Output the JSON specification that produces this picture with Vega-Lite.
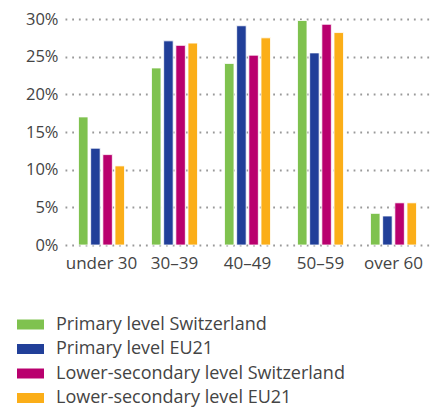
{
  "$schema": "https://vega.github.io/schema/vega-lite/v6.json",
  "autosize": {"type": "none"},
  "padding": {"left": 65, "top": 19, "right": 10, "bottom": 169},
  "width": 365,
  "height": 226,
  "data": {"values": [
    {"age": "under 30", "series": "Primary level Switzerland", "v": 17.0},
    {"age": "under 30", "series": "Primary level EU21", "v": 12.85},
    {"age": "under 30", "series": "Lower-secondary level Switzerland", "v": 12.0},
    {"age": "under 30", "series": "Lower-secondary level EU21", "v": 10.5},
    {"age": "30–39", "series": "Primary level Switzerland", "v": 23.5},
    {"age": "30–39", "series": "Primary level EU21", "v": 27.1},
    {"age": "30–39", "series": "Lower-secondary level Switzerland", "v": 26.5},
    {"age": "30–39", "series": "Lower-secondary level EU21", "v": 26.8},
    {"age": "40–49", "series": "Primary level Switzerland", "v": 24.1},
    {"age": "40–49", "series": "Primary level EU21", "v": 29.1},
    {"age": "40–49", "series": "Lower-secondary level Switzerland", "v": 25.2},
    {"age": "40–49", "series": "Lower-secondary level EU21", "v": 27.5},
    {"age": "50–59", "series": "Primary level Switzerland", "v": 29.8},
    {"age": "50–59", "series": "Primary level EU21", "v": 25.5},
    {"age": "50–59", "series": "Lower-secondary level Switzerland", "v": 29.3},
    {"age": "50–59", "series": "Lower-secondary level EU21", "v": 28.2},
    {"age": "over 60", "series": "Primary level Switzerland", "v": 4.2},
    {"age": "over 60", "series": "Primary level EU21", "v": 3.85},
    {"age": "over 60", "series": "Lower-secondary level Switzerland", "v": 5.6},
    {"age": "over 60", "series": "Lower-secondary level EU21", "v": 5.6}
  ]},
  "config": {
    "view": {"stroke": null},
    "font": "Open Sans",
    "axis": {"labelFont": "Open Sans", "labelColor": "#444", "labelFontSize": 16.5}
  },
  "mark": {"type": "bar", "stroke": "white", "strokeWidth": 0.8},
  "encoding": {
    "x": {
      "field": "age", "type": "nominal",
      "sort": ["under 30", "30–39", "40–49", "50–59", "over 60"],
      "scale": {"paddingInner": 0.37, "paddingOuter": 0.185},
      "axis": {"title": null, "labelAngle": 0, "domain": false, "ticks": false, "labelPadding": 10, "labelFontSize": 17}
    },
    "xOffset": {
      "field": "series", "type": "nominal",
      "sort": ["Primary level Switzerland", "Primary level EU21", "Lower-secondary level Switzerland", "Lower-secondary level EU21"],
      "scale": {"paddingInner": 0.22}
    },
    "y": {
      "field": "v", "type": "quantitative",
      "scale": {"domain": [0, 30], "nice": false},
      "axis": {
        "title": null, "values": [0, 5, 10, 15, 20, 25, 30],
        "labelExpr": "datum.value + '%'",
        "domain": false, "ticks": false, "labelPadding": 7,
        "grid": true, "gridColor": "#999", "gridWidth": 1.8, "gridDash": [1.8, 4.9]
      }
    },
    "color": {
      "field": "series", "type": "nominal",
      "sort": ["Primary level Switzerland", "Primary level EU21", "Lower-secondary level Switzerland", "Lower-secondary level EU21"],
      "scale": {
        "domain": ["Primary level Switzerland", "Primary level EU21", "Lower-secondary level Switzerland", "Lower-secondary level EU21"],
        "range": ["#7fc24f", "#213f99", "#b9006e", "#fbae18"]
      },
      "legend": {
        "title": null, "orient": "none", "legendX": -48, "legendY": 292,
        "direction": "vertical",
        "symbolType": "M-1,-0.37H1V0.37H-1Z", "symbolSize": 729,
        "symbolStrokeWidth": 0, "symbolOpacity": 1,
        "labelFont": "Open Sans", "labelFontSize": 18, "labelColor": "#444",
        "labelOffset": 12, "rowPadding": 1.5, "labelLimit": 0
      }
    }
  }
}
